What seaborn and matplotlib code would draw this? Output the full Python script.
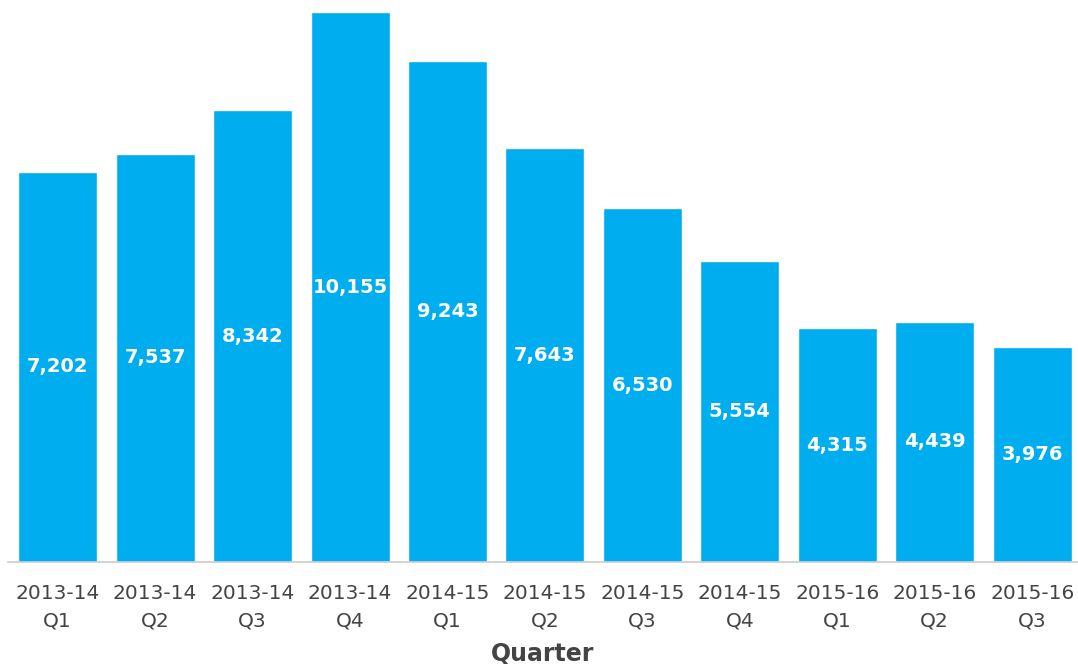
import matplotlib
matplotlib.use("Agg")
import matplotlib.pyplot as plt
import seaborn as sns
import pandas as pd

quarters = ["2013-14\nQ1", "2013-14\nQ2", "2013-14\nQ3", "2013-14\nQ4",
            "2014-15\nQ1", "2014-15\nQ2", "2014-15\nQ3", "2014-15\nQ4",
            "2015-16\nQ1", "2015-16\nQ2", "2015-16\nQ3"]
values = [7202, 7537, 8342, 10155, 9243, 7643, 6530, 5554, 4315, 4439, 3976]

df = pd.DataFrame({"Quarter": quarters, "Value": values})

sns.set_style("white")
plt.rcParams["font.family"] = ["DejaVu Sans"]

fig = plt.figure(figsize=(10.78, 6.64), dpi=100)
ax = fig.add_axes([0.0074, 0.1536, 0.9926, 0.8283])
sns.barplot(data=df, x="Quarter", y="Value", color="#00AEEF", saturation=1,
            width=0.81, ax=ax)

for i, v in enumerate(values):
    ax.text(i, v / 2, f"{v:,}", ha="center", va="center", color="white",
            fontsize=14, fontweight="bold")

ax.set_ylim(0, 10155)
ax.set_xlim(-0.51, 10.47)
ax.set_yticks([])
ax.set_ylabel("")
for s in ["top", "right", "left"]:
    ax.spines[s].set_visible(False)
ax.spines["bottom"].set_color("#cccccc")
ax.spines["bottom"].set_linewidth(1.2)
ax.tick_params(axis="x", length=0, pad=16, labelsize=14.5, labelcolor="#444444")
for lbl in ax.get_xticklabels():
    lbl.set_linespacing(1.55)
ax.set_xlabel("Quarter", fontsize=17, fontweight="bold", color="#444444", labelpad=8)

fig.savefig("out.png", dpi=100)
